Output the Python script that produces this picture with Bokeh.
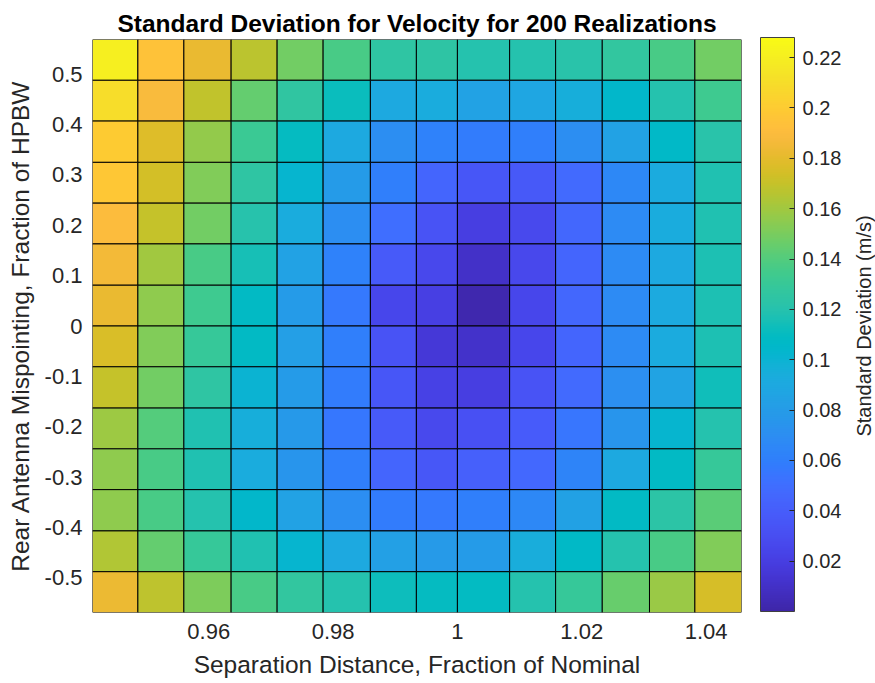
import numpy as np
from bokeh.plotting import figure
from bokeh.layouts import row
from bokeh.core.properties import value
from bokeh.models import (LinearColorMapper, ColorBar, FixedTicker,
                          CustomJSTickFormatter, ColumnDataSource)
from bokeh.transform import transform
from bokeh.embed import file_html
from bokeh.resources import INLINE

TITLE = "Standard Deviation for Velocity for 200 Realizations"
X_LABEL = "Separation Distance, Fraction of Nominal"
Y_LABEL = "Rear Antenna Mispointing, Fraction of HPBW"
CBAR_LABEL = "Standard Deviation (m/s)"

# cell edges (pcolor vertices)
separation_edges = [0.9413, 0.9486, 0.9560, 0.9636, 0.9710, 0.9784, 0.9860,
                    0.9934, 1.0000, 1.0084, 1.0158, 1.0233, 1.0309, 1.0382, 1.0457]
mispointing_edges = [-0.569, -0.488, -0.407, -0.325, -0.244, -0.163, -0.081, 0.0,
                     0.081, 0.163, 0.244, 0.325, 0.407, 0.488, 0.569]

# standard deviation (m/s); first row is the top row of the grid
std_rows = [
    [0.220, 0.195, 0.182, 0.167, 0.148, 0.137, 0.125, 0.124, 0.120, 0.120, 0.122, 0.127, 0.137, 0.148],
    [0.210, 0.188, 0.169, 0.145, 0.126, 0.112, 0.090, 0.093, 0.085, 0.088, 0.095, 0.105, 0.120, 0.133],
    [0.200, 0.178, 0.156, 0.131, 0.110, 0.090, 0.070, 0.062, 0.058, 0.060, 0.070, 0.085, 0.106, 0.122],
    [0.197, 0.174, 0.152, 0.125, 0.102, 0.080, 0.060, 0.045, 0.035, 0.037, 0.048, 0.066, 0.092, 0.118],
    [0.190, 0.170, 0.148, 0.121, 0.093, 0.070, 0.050, 0.033, 0.020, 0.027, 0.046, 0.068, 0.093, 0.118],
    [0.186, 0.160, 0.137, 0.115, 0.085, 0.062, 0.038, 0.026, 0.010, 0.026, 0.045, 0.068, 0.090, 0.117],
    [0.182, 0.155, 0.133, 0.108, 0.080, 0.057, 0.025, 0.021, 0.002, 0.025, 0.046, 0.068, 0.091, 0.117],
    [0.176, 0.152, 0.130, 0.108, 0.082, 0.060, 0.033, 0.016, 0.011, 0.025, 0.045, 0.068, 0.092, 0.117],
    [0.170, 0.148, 0.125, 0.100, 0.080, 0.058, 0.035, 0.022, 0.020, 0.033, 0.048, 0.071, 0.086, 0.114],
    [0.159, 0.140, 0.118, 0.095, 0.078, 0.056, 0.038, 0.027, 0.032, 0.039, 0.055, 0.075, 0.102, 0.120],
    [0.155, 0.137, 0.118, 0.093, 0.075, 0.060, 0.045, 0.036, 0.041, 0.047, 0.064, 0.090, 0.108, 0.130],
    [0.155, 0.137, 0.120, 0.105, 0.085, 0.070, 0.058, 0.057, 0.060, 0.066, 0.084, 0.108, 0.123, 0.142],
    [0.164, 0.145, 0.130, 0.118, 0.102, 0.090, 0.083, 0.079, 0.080, 0.094, 0.107, 0.120, 0.137, 0.152],
    [0.183, 0.168, 0.151, 0.137, 0.127, 0.120, 0.113, 0.110, 0.109, 0.120, 0.130, 0.146, 0.158, 0.175],
]

x_ticks = [0.96, 0.98, 1.0, 1.02, 1.04]
y_ticks = [-0.5, -0.4, -0.3, -0.2, -0.1, 0.0, 0.1, 0.2, 0.3, 0.4, 0.5]
cbar_ticks = [0.02, 0.04, 0.06, 0.08, 0.10, 0.12, 0.14, 0.16, 0.18, 0.20, 0.22]
color_limits = (0.0, 0.228)

# parula colormap (64 anchors), resampled to 256 entries
PARULA_64 = [
    (0.2422, 0.1504, 0.6603), (0.2504, 0.1650, 0.7076), (0.2578, 0.1818, 0.7511), (0.2647, 0.1978, 0.7952),
    (0.2706, 0.2147, 0.8364), (0.2751, 0.2342, 0.8710), (0.2783, 0.2559, 0.8991), (0.2803, 0.2782, 0.9221),
    (0.2813, 0.3006, 0.9414), (0.2810, 0.3228, 0.9579), (0.2795, 0.3447, 0.9717), (0.2760, 0.3667, 0.9829),
    (0.2699, 0.3892, 0.9906), (0.2602, 0.4123, 0.9952), (0.2440, 0.4358, 0.9988), (0.2206, 0.4603, 0.9973),
    (0.1963, 0.4847, 0.9892), (0.1834, 0.5074, 0.9798), (0.1786, 0.5289, 0.9682), (0.1764, 0.5499, 0.9520),
    (0.1687, 0.5703, 0.9359), (0.1540, 0.5902, 0.9218), (0.1460, 0.6091, 0.9079), (0.1380, 0.6276, 0.8973),
    (0.1248, 0.6459, 0.8883), (0.1113, 0.6635, 0.8763), (0.0952, 0.6798, 0.8598), (0.0689, 0.6948, 0.8394),
    (0.0297, 0.7082, 0.8163), (0.0036, 0.7203, 0.7917), (0.0067, 0.7312, 0.7660), (0.0433, 0.7411, 0.7394),
    (0.0964, 0.7500, 0.7120), (0.1408, 0.7584, 0.6842), (0.1717, 0.7670, 0.6554), (0.1938, 0.7758, 0.6251),
    (0.2161, 0.7843, 0.5923), (0.2470, 0.7918, 0.5567), (0.2906, 0.7973, 0.5188), (0.3406, 0.8008, 0.4789),
    (0.3909, 0.8029, 0.4354), (0.4456, 0.8024, 0.3909), (0.5044, 0.7993, 0.3480), (0.5616, 0.7942, 0.3045),
    (0.6174, 0.7876, 0.2612), (0.6720, 0.7793, 0.2227), (0.7242, 0.7698, 0.1910), (0.7738, 0.7598, 0.1646),
    (0.8203, 0.7498, 0.1535), (0.8634, 0.7406, 0.1596), (0.9035, 0.7330, 0.1774), (0.9393, 0.7288, 0.2100),
    (0.9728, 0.7298, 0.2394), (0.9956, 0.7434, 0.2371), (0.9970, 0.7659, 0.2199), (0.9952, 0.7893, 0.2028),
    (0.9892, 0.8136, 0.1885), (0.9786, 0.8386, 0.1766), (0.9676, 0.8639, 0.1643), (0.9610, 0.8890, 0.1537),
    (0.9597, 0.9135, 0.1423), (0.9628, 0.9373, 0.1265), (0.9691, 0.9606, 0.1064), (0.9769, 0.9839, 0.0805),
]
_anchors = np.array(PARULA_64)
_t = np.linspace(0, 1, len(_anchors))
_tt = np.linspace(0, 1, 256)
_rgb = np.stack([np.interp(_tt, _t, _anchors[:, k]) for k in range(3)], axis=1)
parula = ["#%02x%02x%02x" % tuple(int(round(c * 255)) for c in rgb) for rgb in _rgb]

FONT = "Liberation Sans"
TEXT_COLOR = "#262626"
MAIN_W = 742              # heat-map figure; the colour-bar figure fills the rest
SIDE_W = 875 - MAIN_W

# one quad per grid cell
n_rows = len(std_rows)
left, right, bottom, top, val = [], [], [], [], []
for r, cells in enumerate(std_rows):
    lo = mispointing_edges[n_rows - 1 - r]
    hi = mispointing_edges[n_rows - r]
    for c, v in enumerate(cells):
        left.append(separation_edges[c])
        right.append(separation_edges[c + 1])
        bottom.append(lo)
        top.append(hi)
        val.append(v)
src = ColumnDataSource(dict(left=left, right=right, bottom=bottom, top=top, val=val))

mapper = LinearColorMapper(palette=parula, low=color_limits[0], high=color_limits[1])

p = figure(width=MAIN_W, height=683, output_backend="svg", toolbar_location=None,
           x_range=(separation_edges[0], separation_edges[-1]),
           y_range=(mispointing_edges[0], mispointing_edges[-1]),
           min_border_left=92, min_border_right=1, min_border_top=39, min_border_bottom=71,
           title=TITLE)
p.background_fill_color = "white"
p.border_fill_color = "white"
p.outline_line_color = None
p.xgrid.visible = False
p.ygrid.visible = False

p.quad(left="left", right="right", bottom="bottom", top="top", source=src,
       fill_color=transform("val", mapper), line_color="black", line_width=1)

fmt = CustomJSTickFormatter(code="return String(Math.round(tick * 1e6) / 1e6);")

for ax, ticks, lab in ((p.xaxis[0], x_ticks, X_LABEL), (p.yaxis[0], y_ticks, Y_LABEL)):
    ax.ticker = FixedTicker(ticks=ticks)
    ax.formatter = fmt
    ax.axis_label = lab
    ax.axis_line_color = None
    ax.major_tick_line_color = None
    ax.minor_tick_line_color = None
    ax.major_tick_in = 0
    ax.major_tick_out = 0
    ax.major_label_text_font = FONT
    ax.major_label_text_font_size = "22px"
    ax.major_label_text_color = TEXT_COLOR
    ax.axis_label_text_font = FONT
    ax.axis_label_text_font_size = "24.5px"
    ax.axis_label_text_font_style = "normal"
    ax.axis_label_text_color = TEXT_COLOR
p.xaxis.major_label_standoff = 11
p.yaxis.major_label_standoff = 10
p.xaxis.axis_label_standoff = 9
p.yaxis.axis_label_standoff = 8

p.title.text_font = FONT
p.title.text_font_size = "24.5px"
p.title.text_font_style = "bold"
p.title.text_color = "black"
p.title.align = "center"
p.title.standoff = 5

# side figure: colour bar and its label
FRAME_L, FRAME_T, FRAME_B = 17, 37, 70
fw = SIDE_W - FRAME_L
fh = 683 - FRAME_T - FRAME_B
q = figure(width=SIDE_W, height=683, output_backend="svg", toolbar_location=None,
           x_range=(0, fw), y_range=(0, fh),
           min_border_left=FRAME_L, min_border_right=0,
           min_border_top=FRAME_T, min_border_bottom=FRAME_B,
           x_axis_location=None, y_axis_location=None)
q.outline_line_color = None
q.xgrid.visible = False
q.ygrid.visible = False
q.background_fill_color = "white"
q.border_fill_color = "white"

cb = ColorBar(color_mapper=mapper, ticker=FixedTicker(ticks=cbar_ticks), formatter=fmt,
              location=(1, 1), width=34, height=fh - 2, padding=0, margin=0,
              major_tick_in=5, major_tick_out=0, major_tick_line_color="#262626",
              minor_tick_line_color=None,
              bar_line_color="#404040", bar_line_width=1,
              major_label_text_font=FONT, major_label_text_font_size="20px",
              major_label_text_color=TEXT_COLOR, label_standoff=8,
              background_fill_color=None, border_line_color=None)
q.add_layout(cb)

# label reads bottom to top, centred on the frame's vertical middle
q.text(x=[fw - 12], y=[fh - (325 - FRAME_T)], text=[CBAR_LABEL], angle=np.pi / 2,
       text_align="center", text_baseline="middle",
       text_font=value(FONT), text_font_size=value("20px"), text_color=TEXT_COLOR)

layout = row(p, q, spacing=0)
open("out.html", "w").write(file_html(layout, INLINE))
